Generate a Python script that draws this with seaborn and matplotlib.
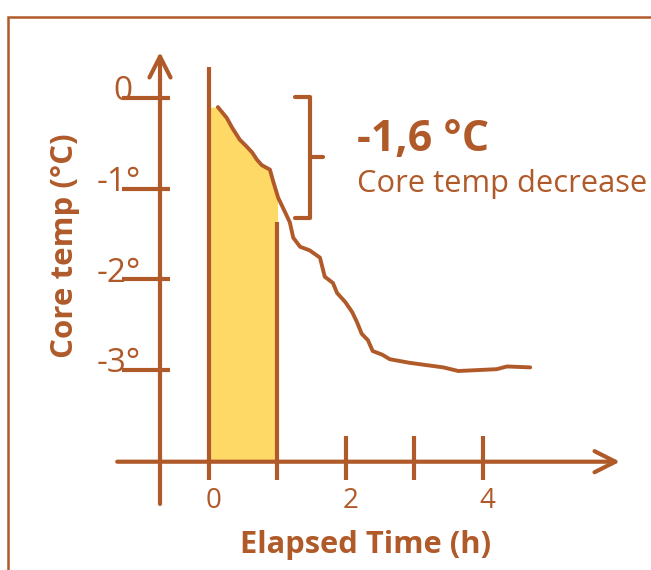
import numpy as np
import pandas as pd
import matplotlib
matplotlib.use("Agg")
import matplotlib.pyplot as plt
from matplotlib.patches import Rectangle
import seaborn as sns

# Datos (horas, grados)
elapsed_h = [0.13, 0.26, 0.34, 0.45, 0.53, 0.63, 0.70, 0.77, 0.89, 0.93,
             1.01, 1.08, 1.18, 1.23, 1.33, 1.47, 1.62, 1.69, 1.81, 1.87,
             1.99, 2.09, 2.16, 2.23, 2.32, 2.39, 2.53, 2.64, 2.93, 3.42,
             3.64, 4.20, 4.35, 4.69]
core_temp = [-0.10, -0.22, -0.33, -0.46, -0.52, -0.60, -0.68, -0.74, -0.79, -0.90,
             -1.10, -1.21, -1.37, -1.54, -1.64, -1.68, -1.76, -1.97, -2.04, -2.15,
             -2.25, -2.36, -2.47, -2.60, -2.67, -2.79, -2.83, -2.88, -2.92, -2.97,
             -3.01, -2.99, -2.96, -2.97]

x_ticks = [0, 1, 2, 3, 4]
x_tick_labels = ['0', '', '2', '', '4']
y_ticks = [0, -1, -2, -3]
y_tick_labels = ['0', '-1°', '-2°', '-3°']

window = (0, 1)          # zona sombreada (primera hora)
bracket = (0.01, -1.32)  # llave de la caida
drop_label = '-1,6 °C'
drop_text = 'Core temp decrease'

BROWN = '#b05a2a'
YELLOW = '#fed966'


def main():
    sns.set_style('white')
    plt.rcParams['font.family'] = ['Open Sans', 'DejaVu Sans']

    fig = plt.figure(figsize=(6.51, 5.70), dpi=100)
    ax = fig.add_axes([0, 0, 1, 1])
    ax.set_xlim(-3.051, 6.453)
    ax.set_ylim(-5.204, 1.0805)
    ax.axis('off')

    # borde del recuadro
    fig.patches.append(Rectangle((8 / 651, -0.1), 1.2, 1.1 - 17 / 570,
                                 transform=fig.transFigure, fill=False,
                                 edgecolor=BROWN, lw=1.8))

    df = pd.DataFrame({'h': elapsed_h, 'temp': core_temp})
    x_base = -4.01

    # area sombreada bajo la curva
    grid = np.linspace(window[0], window[1], 60)
    ax.fill_between(grid, np.interp(grid, df['h'], df['temp']), x_base,
                    color=YELLOW, lw=0, zorder=1)

    sns.lineplot(data=df, x='h', y='temp', color=BROWN, lw=2.8, ax=ax,
                 sort=False, zorder=3)

    lw = 3
    arrow = dict(arrowstyle='->,head_length=0.75,head_width=0.38',
                 color=BROWN, lw=lw, mutation_scale=20, shrinkA=0, shrinkB=0)
    # eje x con flecha
    ax.annotate('', xy=(6.0, x_base), xytext=(-1.34, x_base), arrowprops=arrow)
    # eje y con flecha
    y_axis_x = -0.715
    ax.annotate('', xy=(y_axis_x, 0.507), xytext=(y_axis_x, -4.476),
                arrowprops=arrow)

    # marcas del eje x
    ax.plot([0, 0], [0.34, -4.21], color=BROWN, lw=lw, solid_capstyle='butt')
    ax.plot([1, 1], [-1.37, -4.21], color=BROWN, lw=lw, solid_capstyle='butt')
    for t in x_ticks[2:]:
        ax.plot([t, t], [-3.73, -4.21], color=BROWN, lw=lw, solid_capstyle='butt')
    for t, lab in zip(x_ticks, x_tick_labels):
        if lab:
            ax.text(t + 0.06, -4.44, lab, color=BROWN, fontsize=20,
                    ha='center', va='center')

    # marcas del eje y
    for v, lab in zip(y_ticks, y_tick_labels):
        ax.plot([-1.27, -0.57], [v, v], color=BROWN, lw=lw, solid_capstyle='butt')
        x_right = -1.0 if '°' in lab else -1.11
        ax.text(x_right, v + 0.07, lab, color=BROWN, fontsize=24,
                ha='right', va='center')

    # llave
    bx0, bx1, bx2 = 1.255, 1.474, 1.664
    top, bot = bracket
    ax.plot([bx0, bx1, bx1, bx0], [top, top, bot, bot], color=BROWN, lw=lw,
            solid_joinstyle='round')
    mid = (top + bot) / 2
    ax.plot([bx1, bx2], [mid, mid], color=BROWN, lw=lw)

    ax.text(2.16, -0.46, drop_label, color=BROWN, fontsize=31,
            fontweight='bold', ha='left', va='center')
    ax.text(2.16, -0.95, drop_text, color=BROWN, fontsize=22.2,
            ha='left', va='center')

    # titulos de ejes
    ax.text(-2.10, -1.63, 'Core temp (°C)', color=BROWN, fontsize=22.5,
            fontweight='bold', rotation=90, ha='center', va='center')
    ax.text(2.28, -4.93, 'Elapsed Time (h)', color=BROWN, fontsize=22.2,
            fontweight='bold', ha='center', va='center')

    fig.savefig('out.png', dpi=100)


if __name__ == '__main__':
    main()
